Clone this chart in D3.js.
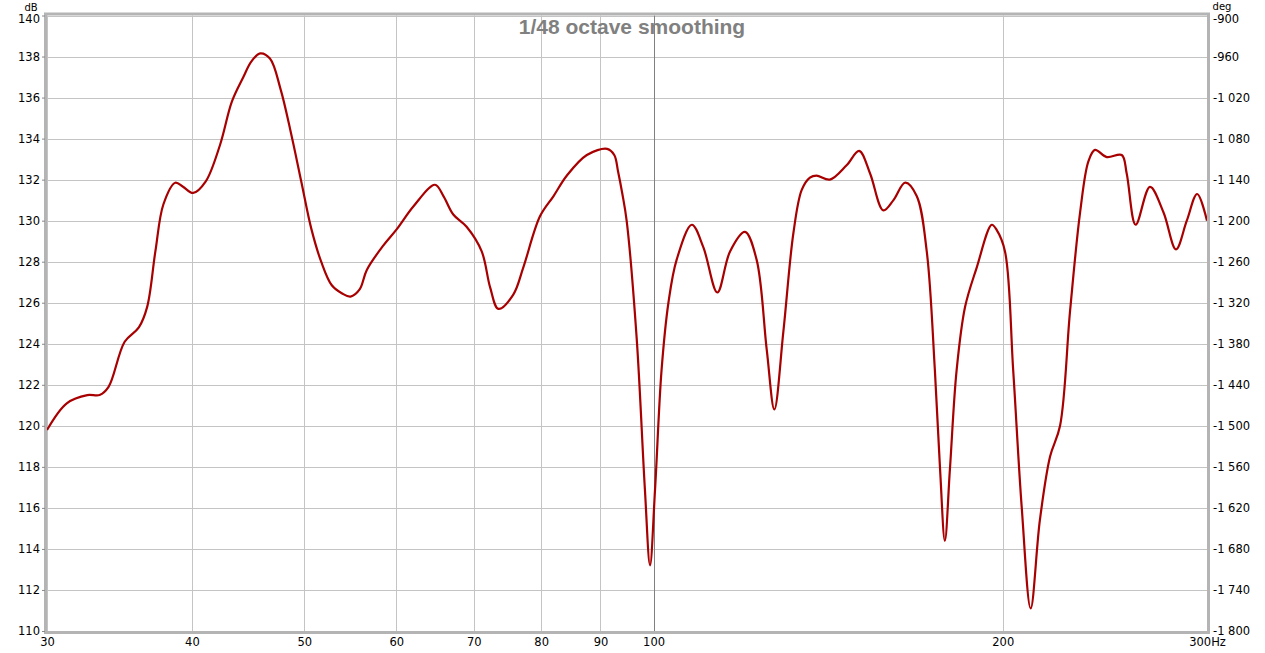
<!DOCTYPE html>
<html>
<head>
<meta charset="utf-8">
<script src="https://cdn.jsdelivr.net/npm/d3@7"></script>
<style>
  body { margin: 0; background: #fff; }
  text { font-family: "DejaVu Sans", sans-serif; }
</style>
</head>
<body>
<div id="chart"></div>
<script>
// frequency (Hz) and level (dB)
const freqs = [30, 31.2, 32.5, 33.3, 33.9, 35.0, 36.0, 36.6, 37.2, 37.8, 38.7, 39.3, 40.1, 41.1, 42.3, 43.3, 44.3,
  45.0, 45.8, 46.7, 47.7, 48.7, 49.7, 50.7, 51.7, 52.8, 53.9, 54.8, 55.8, 56.6, 58.5, 60.1, 62.1, 64.8,
  65.9, 67.2, 69.0, 71.1, 72.3, 73.5, 75.7, 77.2, 79.8, 82.0, 84.2, 87.6, 91.2, 92.5, 93.2, 94.0,
  94.8, 96.7, 98.3, 99.3, 100.3, 101.6, 103.0, 104.7, 107.9, 110.4, 113.5, 116.4, 119.9, 122.7, 125.2,
  127.1, 129.4, 132.0, 134.2, 136.4, 138.2, 141.9, 146.7, 150.4, 153.7, 157.8, 161.0, 164.8, 168.6, 172.0,
  174.8, 176.6, 178.3, 180.1, 182.5, 185.6, 189.9, 195.7, 197.6, 200.9, 204.2, 207.7, 211.4, 215.3,
  219.7, 224.1, 228.6, 233.2, 237.1, 240.2, 245.9, 253.3, 255.8, 260.4, 267.9, 275.2, 282.1, 288.2, 294.2, 300];
const levels = [119.8, 121.1, 121.5, 121.5, 121.9, 124.1, 124.8, 125.8, 128.5, 130.8, 131.85, 131.65, 131.35, 131.9, 133.7, 135.8, 137.0,
  137.75, 138.15, 137.9, 136.4, 134.25, 131.9, 129.6, 128.0, 126.85, 126.45, 126.3, 126.65, 127.6, 128.8, 129.6, 130.7, 131.75,
  131.2, 130.3, 129.7, 128.5, 126.75, 125.7, 126.4, 127.7, 130.2, 131.2, 132.2, 133.2, 133.5, 133.2, 132.4, 131.3,
  130.0, 124.3, 116.9, 113.2, 116.9, 122.7, 126.0, 128.1, 129.8, 128.7, 126.5, 128.5, 129.45, 128.1, 123.7,
  120.8, 124.6, 129.4, 131.5, 132.1, 132.2, 132.0, 132.7, 133.4, 132.3, 130.5, 131.0, 131.85, 131.2, 128.5,
  122.7, 117.9, 114.4, 117.9, 122.7, 125.8, 127.7, 129.8, 129.55, 128.5, 122.7, 116.0, 111.1, 115.4,
  118.5, 120.0, 125.6, 130.4, 132.9, 133.45, 133.1, 133.2, 132.3, 129.8, 131.65, 130.4, 128.6, 130.0, 131.3, 130.0];

const xTicks = [30, 40, 50, 60, 70, 80, 90, 100, 200, 300];
const dbTicks = d3.range(110, 141, 2);
const degTicks = d3.range(-1800, -899, 60);
const title = "1/48 octave smoothing";

class Response {
  constructor(config) {
    this.config = config;
    this.svg = d3.select(config.div).append("svg")
      .attr("width", config.w)
      .attr("height", config.h);
    this.xScale = d3.scaleLog().domain([30, 300]).range([config.left, config.right]);
    this.yScale = d3.scaleLinear().domain([110, 140]).range([config.bottom, config.top]);
    this.degScale = d3.scaleLinear().domain([-1800, -900]).range([config.bottom, config.top]);
  }

  drawGrid() {
    const c = this.config;
    const g = this.svg.append("g");
    g.selectAll(".hg").data(dbTicks).enter().append("line")
      .attr("x1", c.left).attr("x2", c.right)
      .attr("y1", d => Math.round(this.yScale(d)) + 0.5)
      .attr("y2", d => Math.round(this.yScale(d)) + 0.5)
      .attr("stroke", "#c4c4c4");
    g.selectAll(".vg").data(xTicks).enter().append("line")
      .attr("x1", d => Math.round(this.xScale(d)) + 0.5)
      .attr("x2", d => Math.round(this.xScale(d)) + 0.5)
      .attr("y1", c.top).attr("y2", c.bottom)
      .attr("stroke", d => d === 100 ? "#808080" : "#c4c4c4");
  }

  drawAxes() {
    const c = this.config;
    const fmtDeg = v => "-" + d3.format(",")(Math.abs(v)).replace(",", " ");

    const left = d3.axisLeft(this.yScale).tickValues(dbTicks).tickSize(3).tickPadding(2);
    const la = this.svg.append("g").attr("transform", `translate(${c.left - 2},0)`).call(left);

    const right = d3.axisRight(this.degScale).tickValues(degTicks).tickSize(0).tickPadding(5)
      .tickFormat(fmtDeg);
    const ra = this.svg.append("g").attr("transform", `translate(${c.right + 1},0)`).call(right);

    const bottom = d3.axisBottom(this.xScale).tickValues(xTicks).tickSize(0).tickPadding(7)
      .tickFormat(d => d === 300 ? "300Hz" : d);
    const ba = this.svg.append("g").attr("transform", `translate(0,${c.bottom})`).call(bottom);

    [la, ra, ba].forEach(a => {
      a.select(".domain").remove();
      a.selectAll("text").attr("fill", "#000").style("font-size", "11.5px")
        .style("font-family", "'DejaVu Sans', sans-serif");
      a.selectAll(".tick line").attr("stroke", "#888");
    });
    // nudge the top labels down a little so the unit labels fit above them
    la.selectAll(".tick").filter(d => d === 140).select("text").attr("dy", "0.6em");
    ra.selectAll(".tick").filter(d => d === -900).select("text").attr("dy", "0.6em");

    this.svg.append("text").attr("x", 31).attr("y", 10.5).attr("text-anchor", "middle")
      .style("font-size", "10px").text("dB");
    this.svg.append("text").attr("x", 1222).attr("y", 10).attr("text-anchor", "middle")
      .style("font-size", "10px").text("deg");
  }

  drawFrame() {
    const c = this.config;
    this.svg.append("rect")
      .attr("x", c.left - 1.5).attr("y", c.top - 1.5)
      .attr("width", c.right - c.left + 3).attr("height", c.bottom - c.top + 3)
      .attr("fill", "none").attr("stroke", "#b4b4b4").attr("stroke-width", 3);
  }

  render() {
    const line = d3.line()
      .x((d, i) => this.xScale(freqs[i]))
      .y(d => this.yScale(d))
      .curve(d3.curveCatmullRom.alpha(0.5));
    this.svg.append("path")
      .datum(levels)
      .attr("d", line)
      .attr("fill", "none")
      .attr("stroke", "#a80000")
      .attr("stroke-width", 2.2)
      .attr("stroke-linejoin", "round");

    this.svg.append("text")
      .attr("x", 632).attr("y", 34)
      .attr("text-anchor", "middle")
      .style("font-family", "'Liberation Sans', Arial, sans-serif")
      .style("font-weight", "bold")
      .style("font-size", "21px")
      .attr("fill", "#808080")
      .text(title);
  }
}

const c = { div: "#chart", w: 1265, h: 653, left: 47, right: 1207, top: 15.5, bottom: 631 };
const app = new Response(c);
app.drawGrid();
app.render();
app.drawFrame();
app.drawAxes();
</script>
</body>
</html>
